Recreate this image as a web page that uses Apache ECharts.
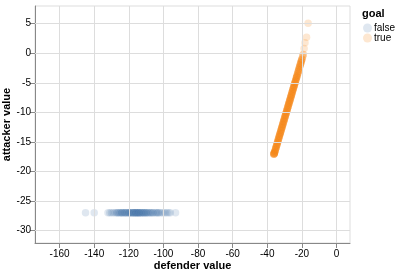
<!DOCTYPE html>
<html><head><meta charset="utf-8">
<script src="https://cdn.jsdelivr.net/npm/echarts@6/dist/echarts.min.js"></script>
<style>html,body{margin:0;padding:0;background:#fff}#c{width:400px;height:275px}</style>
</head><body><div id="c"></div>
<script>
const xTicks = [-160, -140, -120, -100, -80, -60, -40, -20, 0];
const yTicks = [5, 0, -5, -10, -15, -20, -25, -30];
const categories = ['false', 'true'];

// goal = false
const falseDefender = [-145, -140, -132, -131, -130, -129, -128, -127, -127, -126, -126, -125, -125, -124, -124, -124, -123, -123, -122, -122, -122, -121, -121, -120, -120, -120, -119, -119, -119, -118, -118, -118, -117, -117, -117, -117, -116, -116, -116, -116, -115, -115, -115, -115, -114, -114, -114, -114, -113, -113, -113, -112, -112, -112, -111, -111, -111, -110, -110, -110, -109, -109, -108, -108, -107, -107, -106, -106, -105, -104, -104, -103, -103, -102, -101, -100, -99, -98, -97, -96, -93];
const falseAttacker = [-27, -27, -27, -27, -27, -27, -27, -27, -27, -27, -27, -27, -27, -27, -27, -27, -27, -27, -27, -27, -27, -27, -27, -27, -27, -27, -27, -27, -27, -27, -27, -27, -27, -27, -27, -27, -27, -27, -27, -27, -27, -27, -27, -27, -27, -27, -27, -27, -27, -27, -27, -27, -27, -27, -27, -27, -27, -27, -27, -27, -27, -27, -27, -27, -27, -27, -27, -27, -27, -27, -27, -27, -27, -27, -27, -27, -27, -27, -27, -27, -27];

// goal = true
const trueDefender = [-36.2, -36.1, -36, -35.8, -35.6, -35.5, -35.3, -35.1, -35, -34.8, -34.6, -34.5, -34.3, -34.1, -34, -33.8, -33.6, -33.5, -33.3, -33.1, -33, -32.8, -32.6, -32.5, -32.3, -32.1, -32, -31.8, -31.6, -31.5, -31.3, -31.1, -31, -30.8, -30.6, -30.5, -30.3, -30.1, -30, -29.8, -29.6, -29.5, -29.3, -29.1, -29, -28.8, -28.6, -28.5, -28.3, -28.1, -28, -27.8, -27.6, -27.5, -27.3, -27.1, -27, -26.8, -26.6, -26.5, -26.3, -26.1, -26, -25.8, -25.6, -25.5, -25.3, -25.1, -25, -24.8, -24.6, -24.5, -24.3, -24.1, -24, -23.8, -23.6, -23.5, -23.2, -23, -22.7, -22.4, -22.1, -21.8, -21.5, -21.2, -20.9, -20.6, -20.3, -20, -19.6, -19.2, -18.7, -18.2, -17.3, -16.4, -14];
const trueAttacker = [-17.1, -17, -16.9, -16.8, -16.6, -16.5, -16.3, -16.1, -16, -15.8, -15.6, -15.5, -15.3, -15.1, -15, -14.8, -14.6, -14.5, -14.3, -14.1, -14, -13.8, -13.6, -13.5, -13.3, -13.1, -13, -12.8, -12.6, -12.5, -12.3, -12.1, -12, -11.8, -11.6, -11.5, -11.3, -11.1, -11, -10.8, -10.6, -10.5, -10.3, -10.1, -10, -9.8, -9.6, -9.5, -9.3, -9.1, -9, -8.8, -8.6, -8.5, -8.3, -8.1, -8, -7.8, -7.6, -7.5, -7.3, -7.1, -7, -6.8, -6.6, -6.5, -6.3, -6.1, -6, -5.8, -5.6, -5.5, -5.3, -5.1, -5, -4.8, -4.6, -4.5, -4.2, -4, -3.7, -3.4, -3.1, -2.8, -2.5, -2.2, -1.9, -1.6, -1.3, -1, -0.6, -0.2, 0.8, 1.8, 2.7, 5.1];
// how many shots share each (defender, attacker) point
const trueCount = [3, 3, 3, 3, 2, 2, 2, 2, 2, 2, 2, 2, 2, 2, 2, 2, 2, 2, 2, 2, 2, 2, 2, 2, 2, 2, 2, 2, 2, 2, 2, 2, 2, 2, 2, 2, 2, 2, 2, 2, 2, 2, 2, 2, 2, 2, 2, 2, 2, 2, 2, 2, 2, 2, 2, 2, 2, 2, 2, 2, 2, 2, 2, 2, 2, 2, 2, 2, 2, 2, 2, 2, 2, 2, 2, 2, 2, 2, 3, 3, 3, 3, 3, 3, 3, 3, 3, 3, 3, 3, 2, 2, 1, 1, 1, 1];

const font = '"Liberation Sans", Arial, sans-serif';
function points(xs, ys, counts) {
  const out = [];
  xs.forEach((x, i) => { const n = counts ? counts[i] : 1; for (let k = 0; k < n; k++) out.push([x, ys[i]]); });
  return out;
}
const gridX = xTicks.map(v => ({xAxis: v}));
const gridY = yTicks.map(v => ({yAxis: v}));

const chart = echarts.init(document.getElementById('c'), null, {renderer: 'canvas'});
chart.setOption({
  animation: false,
  grid: {left: 35, top: 6, width: 315, height: 237, outerBoundsMode: 'none', containLabel: false,
         show: true, borderColor: '#ddd', borderWidth: 1, backgroundColor: 'transparent'},
  legend: {
    orient: 'vertical', left: 358, top: 18, itemGap: 0, itemWidth: 9, itemHeight: 9,
    icon: 'circle',
    textStyle: {fontFamily: font, fontSize: 10, color: '#000', lineHeight: 10, padding: [0, 0, 0, -3]},
    data: categories
  },
  title: {text: 'goal', left: 357, top: 3, textStyle: {fontFamily: font, fontSize: 11, fontWeight: 'bold', color: '#000'}},
  xAxis: {
    type: 'value', min: -174.2, max: 7.8,
    name: 'defender value', nameLocation: 'middle', nameGap: 17, nameMoveOverlap: false,
    nameTextStyle: {fontFamily: font, fontSize: 11, fontWeight: 'bold', color: '#000'},
    axisLine: {show: true, onZero: false, lineStyle: {color: '#888'}},
    axisTick: {show: true, length: 5, lineStyle: {color: '#888'}, customValues: xTicks},
    axisLabel: {fontFamily: font, fontSize: 10, color: '#000', margin: 6, customValues: xTicks},
    splitLine: {show: false}
  },
  yAxis: {
    type: 'value', min: -32.1, max: 8,
    name: 'attacker value', nameLocation: 'middle', nameGap: 23, nameRotate: 90, nameMoveOverlap: false,
    nameTextStyle: {fontFamily: font, fontSize: 11, fontWeight: 'bold', color: '#000'},
    axisLine: {show: true, onZero: false, lineStyle: {color: '#888'}},
    axisTick: {show: true, length: 5, lineStyle: {color: '#888'}, customValues: yTicks},
    axisLabel: {fontFamily: font, fontSize: 10, color: '#000', margin: 4, customValues: yTicks},
    splitLine: {show: false}
  },
  series: [
    {name: 'false', type: 'scatter', symbolSize: 7.5, z: 3, itemStyle: {color: 'rgba(76,120,168,0.22)'},
     data: points(falseDefender, falseAttacker),
     markLine: {silent: true, symbol: 'none', animation: false, label: {show: false},
                lineStyle: {color: '#ddd', type: 'solid', width: 1}, emphasis: {disabled: true},
                data: gridX.concat(gridY)}},
    {name: 'true', type: 'scatter', symbolSize: 7.5, z: 3, itemStyle: {color: 'rgba(245,133,24,0.25)'},
     data: points(trueDefender, trueAttacker, trueCount)}
  ]
});
</script></body></html>
